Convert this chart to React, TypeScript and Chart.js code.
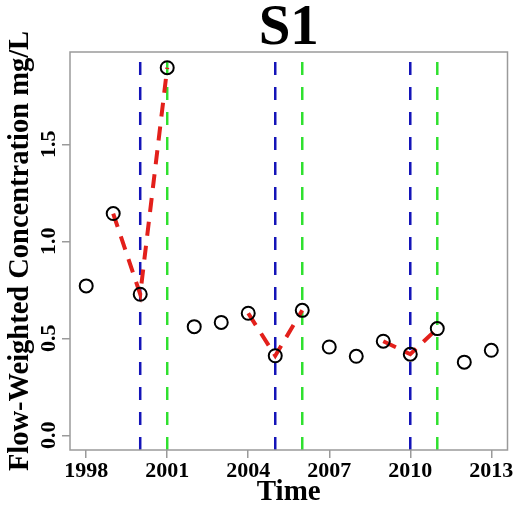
import React, { useEffect, useRef } from "react";
import { Chart, registerables } from "chart.js";

Chart.register(...registerables);

const years = [1998, 1999, 2000, 2001, 2002, 2003, 2004, 2005, 2006, 2007, 2008, 2009, 2010, 2011, 2012, 2013];
const concentration = [0.77, 1.143, 0.727, 1.895, 0.56, 0.582, 0.629, 0.41, 0.644, 0.455, 0.407, 0.485, 0.418, 0.55, 0.377, 0.438];
const blueLineYears = [2000, 2005, 2010];
const greenLineYears = [2001, 2006, 2011];
const redSegments = [
  [1999, 2000, 2001],
  [2004, 2005, 2006],
  [2009, 2010, 2011],
];
const xTicks = [1998, 2001, 2004, 2007, 2010, 2013];
const yTicks = [0, 0.5, 1.0, 1.5];
const X_MIN = 1997.4;
const X_MAX = 2013.6;
const Y_MIN = -0.076;
const Y_MAX = 1.976;

const SERIF = "'Liberation Serif', 'Times New Roman', serif";
const GREY = "#9a9a9a";

const boxPlugin = {
  id: "boxPlugin",
  afterDraw(chart: any) {
    const { ctx, chartArea } = chart;
    ctx.save();
    ctx.strokeStyle = GREY;
    ctx.lineWidth = 1.5;
    ctx.strokeRect(chartArea.left, chartArea.top, chartArea.right - chartArea.left, chartArea.bottom - chartArea.top);
    // rotated y tick labels
    const ys = chart.scales.y;
    ctx.fillStyle = "#000";
    ctx.font = `bold 22px ${SERIF}`;
    ctx.textAlign = "center";
    ctx.textBaseline = "alphabetic";
    yTicks.forEach((v) => {
      const py = ys.getPixelForValue(v);
      ctx.save();
      ctx.translate(55, py);
      ctx.rotate(-Math.PI / 2);
      ctx.fillText(v.toFixed(1), 0, 0);
      ctx.restore();
    });
    ctx.restore();
  },
};

export default function App() {
  const ref = useRef<HTMLCanvasElement | null>(null);
  useEffect(() => {
    if (!ref.current) return;
    const verticalLine = (x: number, color: string) => ({
      type: "line" as const,
      data: [
        { x, y: Y_MIN },
        { x, y: Y_MAX },
      ],
      borderColor: color,
      borderWidth: 2.5,
      borderDash: [13, 12],
      pointRadius: 0,
      fill: false,
    });
    const datasets: any[] = [
      {
        type: "line",
        data: years.map((x, i) => ({ x, y: concentration[i] })),
        showLine: false,
        pointRadius: 6.5,
        pointBorderWidth: 2,
        pointBorderColor: "#000",
        pointBackgroundColor: "rgba(0,0,0,0)",
        pointStyle: "circle",
      },
      ...redSegments.map((seg) => ({
        type: "line",
        data: seg.map((yr) => ({ x: yr, y: concentration[years.indexOf(yr)] })),
        borderColor: "#e3201b",
        borderWidth: 4,
        borderDash: [14, 10],
        borderCapStyle: "butt",
        pointRadius: 0,
        fill: false,
      })),
      ...greenLineYears.map((x) => verticalLine(x, "#2fe02f")),
      ...blueLineYears.map((x) => verticalLine(x, "#1414b8")),
    ];
    const chart = new Chart(ref.current, {
      type: "line",
      data: { datasets },
      plugins: [boxPlugin],
      options: {
        animation: false,
        responsive: false,
        events: [],
        layout: { padding: { left: 0, right: 8, top: 0, bottom: 0 } },
        plugins: {
          legend: { display: false },
          tooltip: { enabled: false },
          title: {
            display: true,
            text: "S1",
            fullSize: false,
            color: "#000",
            font: { family: SERIF, size: 57, weight: "bold", lineHeight: "46px" },
            padding: { top: 6, bottom: 0 },
          },
        },
        scales: {
          x: {
            type: "linear",
            min: X_MIN,
            max: X_MAX,
            afterBuildTicks: (s: any) => {
              s.ticks = xTicks.map((value) => ({ value }));
            },
            afterFit: (s: any) => {
              s.height = 61;
            },
            ticks: {
              color: "#000",
              font: { family: SERIF, size: 22, weight: "bold" },
              padding: 0,
              maxRotation: 0,
              autoSkip: false,
              callback: (v: any) => String(v),
            },
            grid: { drawOnChartArea: false, drawTicks: true, tickLength: 8, color: GREY, lineWidth: 1.5 },
            border: { display: false },
            title: {
              display: true,
              text: "Time",
              color: "#000",
              font: { family: SERIF, size: 29, weight: "bold", lineHeight: 1 },
              padding: { top: 0, bottom: 4 },
            },
          },
          y: {
            type: "linear",
            min: Y_MIN,
            max: Y_MAX,
            afterBuildTicks: (s: any) => {
              s.ticks = yTicks.map((value) => ({ value }));
            },
            afterFit: (s: any) => {
              s.width = 70;
            },
            ticks: {
              color: "rgba(0,0,0,0)",
              font: { family: SERIF, size: 22, weight: "bold" },
              callback: (v: any) => Number(v).toFixed(1),
            },
            grid: { drawOnChartArea: false, drawTicks: true, tickLength: 8, color: GREY, lineWidth: 1.5 },
            border: { display: false },
            title: {
              display: true,
              text: "Flow-Weighted Concentration mg/L",
              color: "#000",
              font: { family: SERIF, size: 28.5, weight: "bold", lineHeight: 1 },
              padding: { top: 6, bottom: 0 },
            },
          },
        },
      } as any,
    });
    return () => chart.destroy();
  }, []);
  return (
    <div style={{ position: "fixed", left: 0, top: 0, width: 516, height: 511, background: "#fff" }}>
      <canvas ref={ref} width={516} height={511} />
    </div>
  );
}
